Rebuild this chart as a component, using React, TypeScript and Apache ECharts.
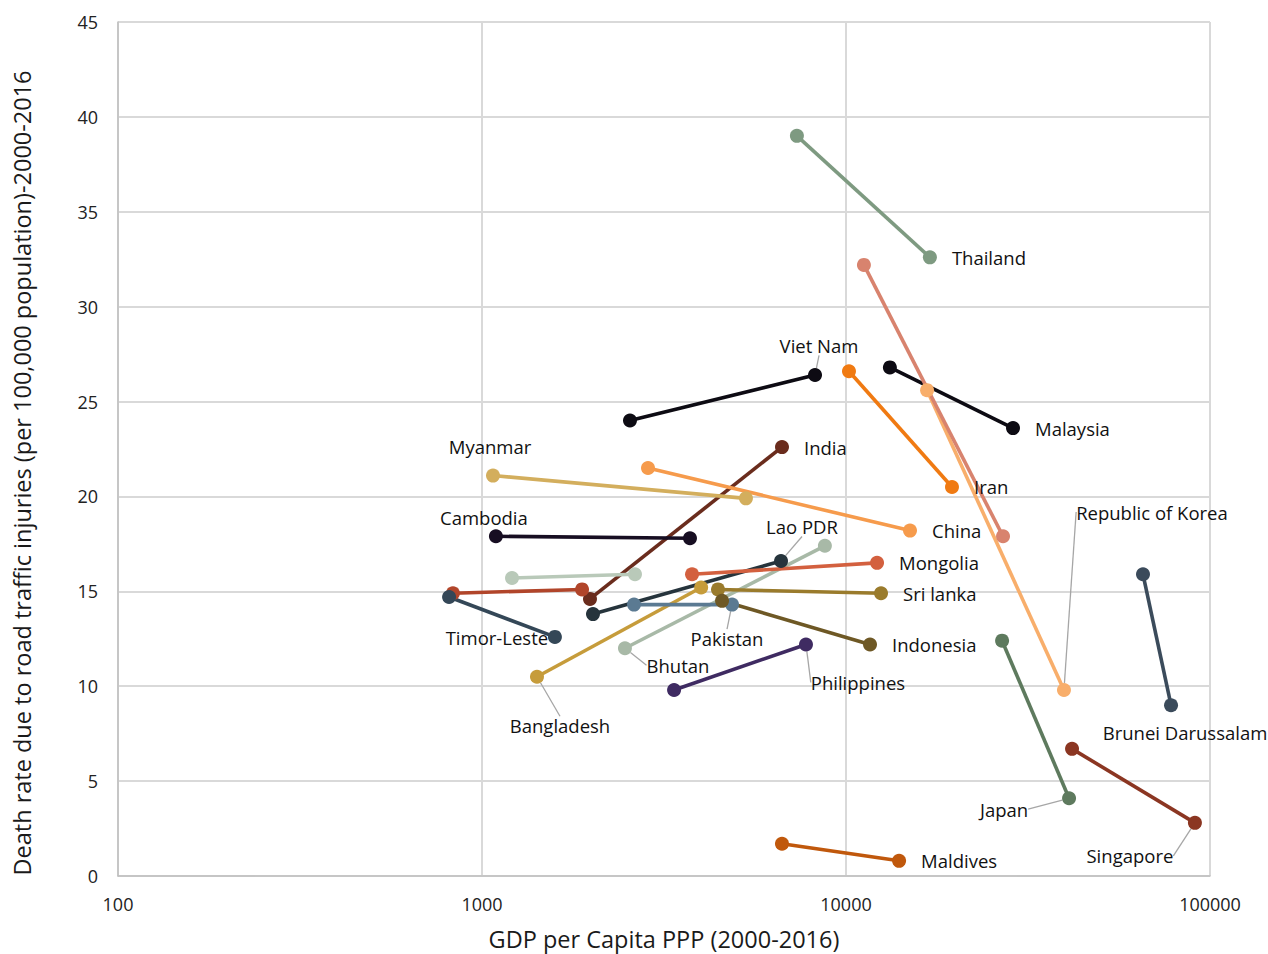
import React, { useEffect, useRef } from "react";
import * as echarts from "echarts";

// Country names (empty string = series shown without a label)
const countries = [
  "Malaysia", "Thailand", "Viet Nam", "Iran", "Republic of Korea", "Unlabelled A",
  "India", "Myanmar", "China", "Cambodia", "Unlabelled B", "Unlabelled C",
  "Timor-Leste", "Lao PDR", "Bhutan", "Bangladesh", "Mongolia", "Pakistan",
  "Sri lanka", "Indonesia", "Philippines", "Maldives", "Japan",
  "Brunei Darussalam", "Singapore",
];
const showName = [
  true, true, true, true, true, false,
  true, true, true, true, false, false,
  true, true, true, true, true, true,
  true, true, true, true, true,
  true, true,
];
// first point
const gdpA = [
  13200, 7330, 2550, 10190, 16700, 11200,
  1980, 1072, 2858, 1092, 1209, 832,
  812, 2018, 2470, 1416, 3776, 2616,
  4450, 4565, 3370, 6670, 26840,
  65450, 41780,
];
const rateA = [
  26.8, 39.0, 24.0, 26.6, 25.6, 32.2,
  14.6, 21.1, 21.5, 17.9, 15.7, 14.9,
  14.7, 13.8, 12.0, 10.5, 15.9, 14.3,
  15.1, 14.5, 9.8, 1.7, 12.4,
  15.9, 6.7,
];
// second point
const gdpB = [
  28760, 17000, 8220, 19550, 39700, 27000,
  6670, 5310, 14990, 3727, 2632, 1883,
  1586, 6630, 8750, 4000, 12170, 4863,
  12480, 11640, 7763, 13990, 41000,
  78150, 90900,
];
const rateB = [
  23.6, 32.6, 26.4, 20.5, 9.8, 17.9,
  22.6, 19.9, 18.2, 17.8, 15.9, 15.1,
  12.6, 16.6, 17.4, 15.2, 16.5, 14.3,
  14.9, 12.2, 12.2, 0.8, 4.1,
  9.0, 2.8,
];
const colors = [
  "#0d0b13", "#7e9a81", "#0d0b13", "#f07a12", "#f8ae6b", "#d8836e",
  "#6a2c1d", "#d3ae5d", "#f69b4c", "#170e22", "#b9c9b9", "#b1452a",
  "#344757", "#26343c", "#a8b9a7", "#c69c3b", "#d3603f", "#5b7a92",
  "#9a7b2c", "#6e5825", "#3f2b62", "#c0580c", "#5e7a5e",
  "#3b4b5b", "#8b3622",
];
// which end carries the label (0 = first point, 1 = second point)
const labelEnd = [
  1, 1, 1, 1, 1, 1,
  1, 0, 1, 0, 1, 1,
  1, 1, 0, 0, 1, 1,
  1, 1, 1, 1, 1,
  1, 1,
];
// "right" = label to the right of the point; otherwise moved by dx/dy
const labelSide = [
  "right", "right", "move", "right", "move", "none",
  "right", "move", "right", "move", "none", "none",
  "move", "move", "move", "move", "right", "move",
  "right", "right", "move", "right", "move",
  "move", "move",
];
const labelDx = [
  0, 0, 4, 0, 88, 0,
  0, -3, 0, -12, 0, 0,
  -58, 21, 53, 23, 0, -5,
  0, 0, 52, 0, -65,
  14, -65,
];
const labelDy = [
  0, 0, -29, 0, -178, 0,
  0, -29, 0, -19, 0, 0,
  1, -34, 17, 49, 0, 34,
  0, 0, 38, 0, 11,
  27, 33,
];
const leader = [
  false, false, true, false, true, false,
  false, false, false, false, false, false,
  false, true, true, true, false, true,
  false, false, true, false, true,
  false, true,
];

const FONT = "'Open Sans', 'Noto Sans', sans-serif";

export default function App() {
  const ref = useRef<HTMLDivElement>(null);

  useEffect(() => {
    document.body.style.margin = "0";
    const chart = echarts.init(ref.current!, null, { renderer: "svg" });

    const series = countries.map((name, i) => {
      const pts: any[] = [
        [gdpA[i], rateA[i]],
        [gdpB[i], rateB[i]],
      ].map((v, k) => {
        const item: any = { value: v };
        if (showName[i] && k === labelEnd[i] && labelSide[i] !== "none") {
          if (labelSide[i] === "right") {
            item.label = {
              show: true,
              position: "right",
              distance: 15,
              formatter: name,
            };
          } else {
            item.label = {
              show: true,
              position: "inside",
              formatter: name,
            };
            item.labelLine = {
              show: leader[i],
              lineStyle: { color: "#a6a6a6", width: 1.3 },
            };
          }
        }
        return item;
      });
      return {
        type: "line",
        name,
        data: pts,
        symbol: "circle",
        symbolSize: 14,
        showSymbol: true,
        itemStyle: { color: colors[i] },
        lineStyle: { color: colors[i], width: 3.6 },
        label: {
          show: false,
          color: "#111",
          fontSize: 18.5,
          fontFamily: FONT,
        },
        labelLayout:
          labelSide[i] === "move"
            ? { dx: labelDx[i], dy: labelDy[i] }
            : undefined,
        emphasis: { disabled: true },
        z: 2,
      };
    });

    chart.setOption({
      animation: false,
      textStyle: { fontFamily: FONT },
      grid: {
        left: 118,
        right: 58,
        top: 22,
        bottom: 78,
        containLabel: false,
        outerBoundsMode: "none",
      },
      xAxis: {
        type: "log",
        logBase: 10,
        min: 100,
        max: 100000,
        name: "GDP per Capita PPP (2000-2016)",
        nameLocation: "middle",
        nameGap: 51,
        nameTextStyle: { fontSize: 23.5, color: "#1a1a1a", fontFamily: FONT },
        axisLine: { lineStyle: { color: "#bfbfbf", width: 1.5 } },
        axisTick: { show: false },
        axisLabel: {
          fontSize: 18,
          color: "#222",
          margin: 19,
          fontFamily: FONT,
          formatter: (v: number) => String(Math.round(v)),
        },
        splitLine: { show: true, lineStyle: { color: "#d9d9d9", width: 2 } },
      },
      yAxis: {
        type: "value",
        min: 0,
        max: 45,
        interval: 5,
        name: "Death rate due to road traffic injuries (per 100,000 population)-2000-2016",
        nameLocation: "middle",
        nameGap: 84,
        nameTextStyle: {
          fontSize: 23.5,
          color: "#1a1a1a",
          fontFamily: FONT,
          padding: [0, 48, 0, 0],
        },
        axisLine: { show: true, lineStyle: { color: "#bfbfbf", width: 1.5 } },
        axisTick: { show: false },
        axisLabel: { fontSize: 18, color: "#222", margin: 20, fontFamily: FONT },
        splitLine: { show: true, lineStyle: { color: "#d9d9d9", width: 2 } },
      },
      series,
    });

    return () => chart.dispose();
  }, []);

  return <div ref={ref} style={{ width: 1268, height: 954 }} />;
}
